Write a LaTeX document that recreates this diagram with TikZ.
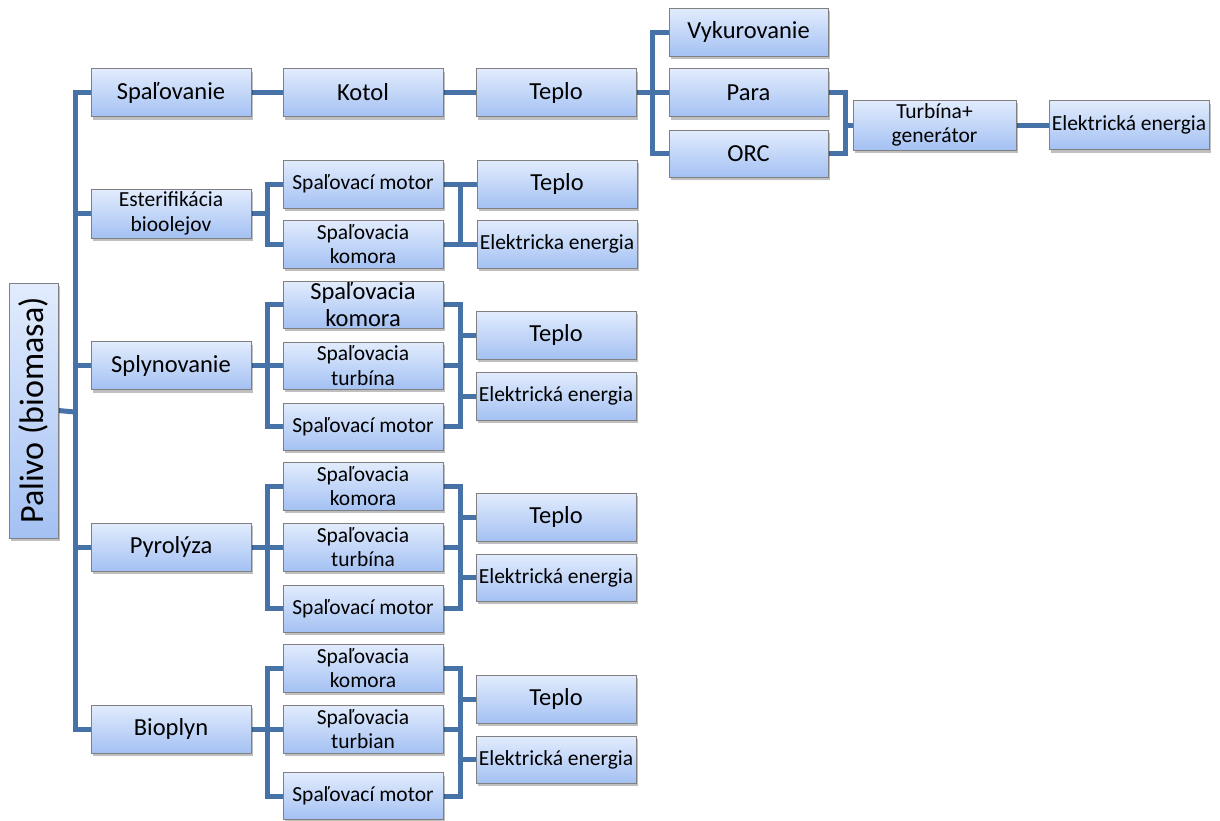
\documentclass[tikz,border=0pt]{standalone}
\usepackage{fontspec}
\setmainfont{Carlito}
\usetikzlibrary{shadows}
\definecolor{linkblue}{RGB}{70,114,168}
\definecolor{boxtop}{RGB}{226,236,253}
\definecolor{boxbot}{RGB}{164,193,243}
\definecolor{boxline}{RGB}{128,128,128}
\pgfdeclarelayer{bg}
\pgfsetlayers{bg,main}
\tikzset{
  box/.style={draw=boxline, line width=0.8pt, top color=boxtop, bottom color=boxbot,
    minimum width=160pt, minimum height=48pt, inner sep=1pt, align=center,
    font=\fontsize{24.5}{27}\selectfont,
    drop shadow={shadow xshift=2pt, shadow yshift=-3pt, fill=black, opacity=0.25}},
  small/.style={font=\fontsize{21.5}{24.5}\selectfont},
  link/.style={draw=linkblue, line width=5pt, line join=miter},
}
\begin{document}
\begin{tikzpicture}[x=1pt, y=-1pt]
\useasboundingbox (0,0) rectangle (1220,820);

% root
\node[box, minimum width=49pt, minimum height=255pt] (pal) at (33.5,410.5) {};
\node[rotate=90, font=\fontsize{34}{38}\selectfont] (paltext) at (pal.center) {Palivo (biomasa)};

% first level
\node[box] (spal) at (171,92.5) {Spaľovanie};
\node[box, small, minimum height=49pt] (ester) at (171,213.5) {Esterifikácia\\bioolejov};
\node[box] (splyn) at (171,365.5) {Splynovanie};
\node[box] (pyro) at (171,547) {Pyrolýza};
\node[box] (biop) at (171,729) {Bioplyn};

% combustion branch
\node[box] (kotol) at (363,92.5) {Kotol};
\node[box] (teploA) at (556,92.5) {Teplo};
\node[box, minimum width=159pt] (vyk) at (748.5,32) {Vykurovanie};
\node[box, minimum width=159pt] (para) at (748.5,92.5) {Para};
\node[box, minimum width=159pt, minimum height=47pt] (orc) at (748.5,153.5) {ORC};
\node[box, small, minimum width=163pt, minimum height=50pt] (turb) at (934.5,125) {Turbína+\\generátor};
\node[box, small, minimum height=49pt] (elA) at (1129,125) {Elektrická energia};

% esterification branch
\node[box, small] (motB) at (363,184) {Spaľovací motor};
\node[box, small] (komB) at (363,244) {Spaľovacia\\komora};
\node[box] (teploB) at (557,184) {Teplo};
\node[box, small] (elB) at (557,244) {Elektricka energia};

% gasification branch
\node[box, minimum height=47pt] (komC) at (363,304.5) {Spaľovacia\\komora};
\node[box, small, minimum height=47pt] (turC) at (363,365.5) {Spaľovacia\\turbína};
\node[box, small, minimum height=47pt] (motC) at (363,426.5) {Spaľovací motor};
\node[box] (teploC) at (556,335) {Teplo};
\node[box, small] (elC) at (556,396) {Elektrická energia};

% pyrolysis branch
\node[box, small] (komD) at (363,486) {Spaľovacia\\komora};
\node[box, small] (turD) at (363,547) {Spaľovacia\\turbína};
\node[box, small, minimum height=47pt] (motD) at (363,608.5) {Spaľovací motor};
\node[box] (teploD) at (556,517) {Teplo};
\node[box, small, minimum height=47pt] (elD) at (556,577.5) {Elektrická energia};

% biogas branch
\node[box, small] (komE) at (363,668) {Spaľovacia\\komora};
\node[box, small] (turE) at (363,729) {Spaľovacia\\turbian};
\node[box, small, minimum height=47pt] (motE) at (363,796) {Spaľovací motor};
\node[box] (teploE) at (556,699) {Teplo};
\node[box, small, minimum height=47pt] (elE) at (556,759.5) {Elektrická energia};

% bus points
\coordinate (trunk) at (75,412);
\coordinate (busA) at (652,92.5);
\coordinate (busT) at (845,125);
\coordinate (lB) at (267,213.5);
\coordinate (rB) at (460,213.5);
\coordinate (lC) at (267,365.5);
\coordinate (rC) at (460,365.5);
\coordinate (lD) at (267,547);
\coordinate (rD) at (460,547);
\coordinate (lE) at (267,729);
\coordinate (rE) at (460,729);

\begin{pgfonlayer}{bg}
  % trunk
  \draw[link] (pal.east) -- (trunk);
  \foreach \n in {spal,ester,splyn,pyro,biop}
    \draw[link] (\n.west) -| (trunk);
  % combustion chain
  \draw[link] (spal.east) -- (kotol.west);
  \draw[link] (kotol.east) -- (teploA.west);
  \draw[link] (teploA.east) -- (busA);
  \foreach \n in {vyk,para,orc}
    \draw[link] (\n.west) -| (busA);
  \foreach \n in {para,orc}
    \draw[link] (\n.east) -| (busT);
  \draw[link] (busT) -- (turb.west);
  \draw[link] (turb.east) -- (elA.west);
  % esterification
  \draw[link] (ester.east) -- (lB);
  \foreach \n in {motB,komB}
    \draw[link] (\n.west) -| (lB);
  \foreach \n in {motB,komB}
    \draw[link] (\n.east) -| (rB);
  \foreach \n in {teploB,elB}
    \draw[link] (\n.west) -| (rB);
  % gasification
  \draw[link] (splyn.east) -- (lC);
  \foreach \n in {komC,turC,motC}
    \draw[link] (\n.west) -| (lC);
  \foreach \n in {komC,turC,motC}
    \draw[link] (\n.east) -| (rC);
  \foreach \n in {teploC,elC}
    \draw[link] (\n.west) -| (rC);
  % pyrolysis
  \draw[link] (pyro.east) -- (lD);
  \foreach \n in {komD,turD,motD}
    \draw[link] (\n.west) -| (lD);
  \foreach \n in {komD,turD,motD}
    \draw[link] (\n.east) -| (rD);
  \foreach \n in {teploD,elD}
    \draw[link] (\n.west) -| (rD);
  % biogas
  \draw[link] (biop.east) -- (lE);
  \foreach \n in {komE,turE,motE}
    \draw[link] (\n.west) -| (lE);
  \foreach \n in {komE,turE,motE}
    \draw[link] (\n.east) -| (rE);
  \foreach \n in {teploE,elE}
    \draw[link] (\n.west) -| (rE);
\end{pgfonlayer}
\end{tikzpicture}
\end{document}
